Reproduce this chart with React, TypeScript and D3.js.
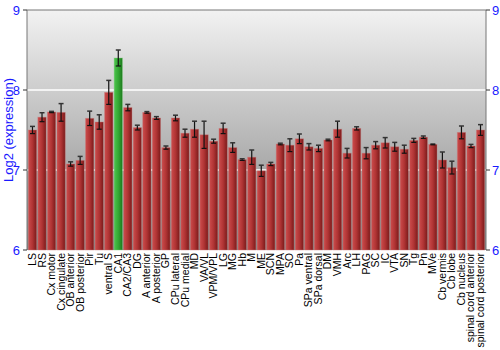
import React from "react";
import * as d3 from "d3";

const categories = ["LS","RS","Cx motor","Cx cingulate","OB anterior","OB posterior","Pir","Tu","ventral S","CA1","CA2/CA3","DG","A anterior","A posterior","GP","CPu lateral","CPu medial","MD","VA/VL","VPM/VPL","LG","MG","Hb","M","ME","SCN","MPA","SO","Pa","SPa ventral","SPa dorsal","DM","VMH","Arc","LH","PAG","SC","IC","VTA","SN","Tg","Pn","MVe","Cb vermis","Cb lobe","Cb nucleus","spinal cord anterior","spinal cord posterior"];
const values = [7.5,7.66,7.725,7.72,7.075,7.12,7.646,7.6,7.97,8.4,7.78,7.53,7.72,7.65,7.28,7.65,7.46,7.51,7.44,7.36,7.52,7.28,7.13,7.16,6.99,7.075,7.325,7.31,7.39,7.29,7.27,7.375,7.51,7.21,7.52,7.21,7.31,7.34,7.29,7.26,7.37,7.41,7.32,7.125,7.03,7.47,7.3,7.5];
const errors = [0.045,0.056,0.008,0.11,0.027,0.05,0.09,0.09,0.15,0.1,0.04,0.03,0.01,0.017,0.02,0.035,0.05,0.1,0.17,0.025,0.065,0.06,0.01,0.09,0.07,0.02,0.01,0.08,0.06,0.04,0.04,0.01,0.1,0.06,0.02,0.07,0.045,0.065,0.055,0.05,0.025,0.015,0.005,0.1,0.08,0.08,0.02,0.067];
const highlighted = ["CA1"];
const yTicks = [6,7,8,9];

export default function App() {
  const W = 500, H = 350;
  const left = 27, right = 486, top = 10, bottom = 250;
  const x = d3.scaleBand<string>().domain(categories).range([left, right]).paddingInner(0.13).paddingOuter(0.14);
  const y = d3.scaleLinear().domain([6, 9]).range([bottom, top]);
  const font = "Liberation Sans, Arial, sans-serif";
  return (
    <svg width={W} height={H} style={{ position: "absolute", left: 0, top: 0 }}>
      <defs>
        <linearGradient id="bg" x1="0" y1="0" x2="0" y2="1">
          <stop offset="0" stopColor="#f2f2f2" />
          <stop offset="1" stopColor="#848484" />
        </linearGradient>
        <linearGradient id="red" x1="0" y1="0" x2="1" y2="0">
          <stop offset="0" stopColor="#cc4c4c" />
          <stop offset="0.5" stopColor="#b03434" />
          <stop offset="1" stopColor="#7a1a1a" />
        </linearGradient>
        <linearGradient id="green" x1="0" y1="0" x2="1" y2="0">
          <stop offset="0" stopColor="#4cc44c" />
          <stop offset="0.5" stopColor="#34a834" />
          <stop offset="1" stopColor="#1e7a1e" />
        </linearGradient>
      </defs>
      <rect x={0} y={0} width={W} height={H} fill="#fff" />
      <rect x={left} y={top} width={right - left} height={bottom - top} fill="url(#bg)" />
      {[7, 8].map(t => (
        <line key={t} x1={left} x2={right} y1={y(t)} y2={y(t)} stroke="#ffffff" strokeOpacity={0.75} strokeWidth={2} />
      ))}
      {categories.map((c, i) => {
        const bx = x(c)!;
        const bw = x.bandwidth();
        const hl = highlighted.includes(c);
        return (
          <g key={c}>
            <rect x={bx} y={y(values[i])} width={bw} height={bottom - y(values[i])}
              fill={hl ? "url(#green)" : "url(#red)"} stroke={hl ? "#7fcf7f" : "#c97a7a"} strokeOpacity={0.5} strokeWidth={0.8} />
          </g>
        );
      })}
      {categories.map((c, i) => {
        const cx = x(c)! + x.bandwidth() / 2;
        const y1 = y(values[i] + errors[i]);
        const y2 = y(values[i] - errors[i]);
        return (
          <g key={"e" + c}>
            <line x1={cx} x2={cx} y1={y1} y2={y2} stroke="#111" strokeWidth={1.2} />
            <line x1={cx - 2.5} x2={cx + 2.5} y1={y1} y2={y1} stroke="#333" strokeWidth={1.5} />
            <line x1={cx - 2.5} x2={cx + 2.5} y1={y2} y2={y2} stroke="#111" strokeWidth={1.2} />
          </g>
        );
      })}
      <line x1={left} x2={left} y1={top} y2={bottom} stroke="#777" strokeWidth={1} />
      <line x1={right} x2={right} y1={top} y2={bottom} stroke="#777" strokeWidth={1} />
      <line x1={left} x2={right} y1={top} y2={top} stroke="#777" strokeWidth={1} />
      {yTicks.map(t => (
        <g key={"t" + t}>
          <line x1={left - 4} x2={left} y1={y(t)} y2={y(t)} stroke="#333" />
          <line x1={right} x2={right + 4} y1={y(t)} y2={y(t)} stroke="#333" />
          <text x={left - 7} y={y(t)} dy="0.35em" textAnchor="end" fill="#1a1aff" fontSize={13} fontFamily={font}>{t}</text>
          <text x={right + 6} y={y(t)} dy="0.35em" textAnchor="start" fill="#1a1aff" fontSize={13} fontFamily={font}>{t}</text>
        </g>
      ))}
      <text transform={`translate(13,${(top + bottom) / 2}) rotate(-90)`} textAnchor="middle" fill="#1a1aff" fontSize={13} fontFamily={font}>Log2 (expression)</text>
      {categories.map(c => {
        const cx = x(c)! + x.bandwidth() / 2;
        return (
          <text key={"l" + c} transform={`translate(${cx + 3.5},${bottom + 3}) rotate(-90)`} textAnchor="end" fontSize={10.5} fontFamily={font} fill="#000">{c}</text>
        );
      })}
    </svg>
  );
}
